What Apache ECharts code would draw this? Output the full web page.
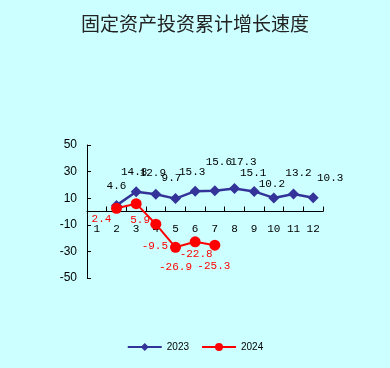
<!DOCTYPE html>
<html>
<head>
<meta charset="utf-8">
<script src="https://cdn.jsdelivr.net/npm/echarts@6/dist/echarts.min.js"></script>
<style>
html,body{margin:0;padding:0;background:#CCFFFF;}
#c{width:390px;height:368px;}
</style>
</head>
<body>
<div id="c"></div>
<script>
// Data
var titleText = '固定资产投资累计增长速度';
var months = ['1','2','3','4','5','6','7','8','9','10','11','12'];
var series2023Name = '2023';
var series2024Name = '2024';
var values2023 = [null, 4.6, 14.8, 12.9, 9.7, 15.3, 15.6, 17.3, 15.1, 10.2, 13.2, 10.3];
var values2024 = [null, 2.4, 5.9, -9.5, -26.9, -22.8, -25.3, null, null, null, null, null];
var yTicks = [-50, -30, -10, 10, 30, 50];

// Label placement (style, not data)
var offs2023 = [null, [0,-19], [-2,-20], [-3,-21], [-4,-21], [-3,-19], [4,-29], [9,-26], [-1,-18], [-2,-14], [5,-21], [17,-20]];
var offs2024 = [null, [-15,11], [4,16], [-1,22], [0,20], [1,12], [-1,21], null, null, null, null, null];

function buildData(vals, offs, color) {
  return vals.map(function (v, i) {
    if (v === null) return null;
    return {
      value: v,
      label: {
        show: true,
        position: 'inside',
        offset: offs[i],
        color: color,
        fontFamily: 'Liberation Mono',
        fontSize: 11,
        formatter: function (p) { return String(p.value); }
      }
    };
  });
}

var gridTop = 145, gridBottom = 90, H = 368;
var gridH = H - gridTop - gridBottom;
var yMin = yTicks[0], yMax = yTicks[yTicks.length - 1];
// shift x axis up to the zero line
var zeroOffset = -gridH * (0 - yMin) / (yMax - yMin);

var chart = echarts.init(document.getElementById('c'), null, {renderer: 'canvas'});
var option = {
  backgroundColor: '#CCFFFF',
  animation: false,
  title: {
    text: titleText,
    left: 'center',
    top: 9,
    textStyle: {fontFamily: 'Noto Sans CJK SC', fontSize: 19, fontWeight: 'normal', color: '#222'}
  },
  legend: {
    bottom: 11,
    left: 'center',
    itemWidth: 34,
    itemHeight: 10,
    itemGap: 12,
    textStyle: {fontFamily: 'Liberation Sans', fontSize: 10, color: '#000'},
    data: [series2023Name, series2024Name]
  },
  grid: {left: 87, right: 67, top: gridTop, bottom: gridBottom},
  xAxis: {
    type: 'category',
    data: months,
    boundaryGap: true,
    position: 'bottom',
    offset: zeroOffset,
    axisLine: {onZero: false, lineStyle: {color: '#000', width: 1}},
    axisTick: {show: true, inside: true, length: 5, lineStyle: {color: '#000'}},
    axisLabel: {margin: 12, color: '#000', fontFamily: 'Liberation Mono', fontSize: 11}
  },
  yAxis: {
    type: 'value',
    min: yMin,
    max: yMax,
    interval: yTicks[1] - yTicks[0],
    splitLine: {show: false},
    axisLine: {show: true, lineStyle: {color: '#000', width: 1}},
    axisTick: {show: true, inside: true, length: 4, lineStyle: {color: '#000'}},
    axisLabel: {margin: 10, color: '#000', fontFamily: 'Liberation Sans', fontSize: 12}
  },
  series: [
    {
      name: series2023Name,
      type: 'line',
      data: buildData(values2023, offs2023, '#000'),
      symbol: 'diamond',
      symbolSize: 11,
      itemStyle: {color: '#333399'},
      lineStyle: {color: '#333399', width: 2.5},
      z: 2
    },
    {
      name: series2024Name,
      type: 'line',
      data: buildData(values2024, offs2024, '#FF0000'),
      symbol: 'circle',
      symbolSize: 11,
      itemStyle: {color: '#FF0000'},
      lineStyle: {color: '#FF0000', width: 2},
      z: 3
    }
  ]
};
chart.setOption(option);
</script>
</body>
</html>
